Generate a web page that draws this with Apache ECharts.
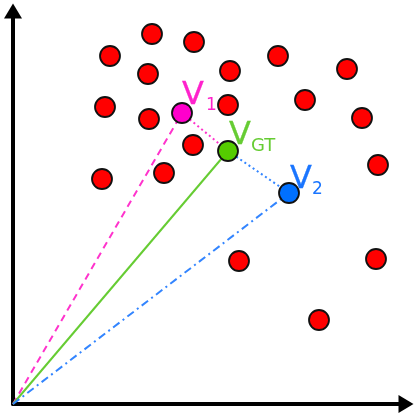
<!DOCTYPE html>
<html><head><meta charset="utf-8">
<script src="https://cdn.jsdelivr.net/npm/echarts@6/dist/echarts.min.js"></script>
<style>html,body{margin:0;padding:0;background:#fff}#c{width:414px;height:417px}</style>
</head><body><div id="c"></div>
<script>
// Background (red) points
const redPoints = [
  [139,370],[97,348],[181,362],[265,348],[135,330],[217,333],[334,335],
  [92,297],[136,285],[215,299],[292,304],[349,286],[180,259],[365,239],
  [89,225],[151,231],[226,143],[363,145],[306,84]
];
const origin = [0, 0];
const v1 = [169, 291];
const vGT = [215, 253];
const v2 = [276, 211];
const labelV1 = ['V', '1'];
const labelGT = ['V', 'GT'];
const labelV2 = ['V', '2'];

const FONT = 'DejaVu Sans';
function richLabel(parts, color, pos, subSize, subPad) {
  return {
    show: true,
    position: pos,
    formatter: '{v|' + parts[0] + '}{s|' + parts[1] + '}',
    rich: {
      v: { fontSize: 32, lineHeight: 30, verticalAlign: 'top', color: color, fontFamily: FONT,
           textBorderColor: color, textBorderWidth: 0.3 },
      s: { fontSize: subSize, lineHeight: 6, verticalAlign: 'top', color: color, fontFamily: FONT,
           padding: [17, 0, 0, subPad] }
    }
  };
}

const chart = echarts.init(document.getElementById('c'), null, { renderer: 'canvas' });
const axisCommon = {
  type: 'value', min: 0, max: 393,
  splitLine: { show: false }, axisTick: { show: false }, axisLabel: { show: false },
  axisLine: { show: true, symbol: ['none', 'triangle'], symbolSize: [18, 15], lineStyle: { color: '#000', width: 4 } }
};
const border = { borderColor: '#111', borderWidth: 1.8, opacity: 1 };
chart.setOption({
  animation: false,
  grid: { left: 13, bottom: 13, width: 393, height: 393 },
  xAxis: Object.assign({}, axisCommon),
  yAxis: Object.assign({}, axisCommon),
  series: [
    { type: 'line', data: [origin, v1], showSymbol: false, z: 1,
      lineStyle: { color: '#ff33cc', width: 2, type: [7, 5] } },
    { type: 'line', data: [origin, vGT], showSymbol: false, z: 1,
      lineStyle: { color: '#66cc33', width: 2, type: 'solid' } },
    { type: 'line', data: [origin, v2], showSymbol: false, z: 1,
      lineStyle: { color: '#3385ff', width: 2, type: [8, 4, 2, 4] } },
    { type: 'line', data: [v1, vGT], showSymbol: false, z: 1,
      lineStyle: { color: '#ff33cc', width: 2, type: [2, 3] } },
    { type: 'line', data: [vGT, v2], showSymbol: false, z: 1,
      lineStyle: { color: '#3385ff', width: 2, type: [2, 3] } },
    { type: 'scatter', data: redPoints, symbolSize: 20, z: 3,
      itemStyle: Object.assign({ color: '#ff0000' }, border) },
    { type: 'scatter', data: [v1], symbolSize: 20, z: 4,
      itemStyle: Object.assign({ color: '#ff00cc' }, border),
      label: richLabel(labelV1, '#ff22cc', [11, -22], 17, 2) },
    { type: 'scatter', data: [vGT], symbolSize: 20, z: 4,
      itemStyle: Object.assign({ color: '#55cc00' }, border),
      label: richLabel(labelGT, '#66cc33', [12, -20], 18, 0) },
    { type: 'scatter', data: [v2], symbolSize: 20, z: 4,
      itemStyle: Object.assign({ color: '#0070ff' }, border),
      label: richLabel(labelV2, '#1a75ff', [12, -18], 17, 0) }
  ]
});
</script></body></html>
